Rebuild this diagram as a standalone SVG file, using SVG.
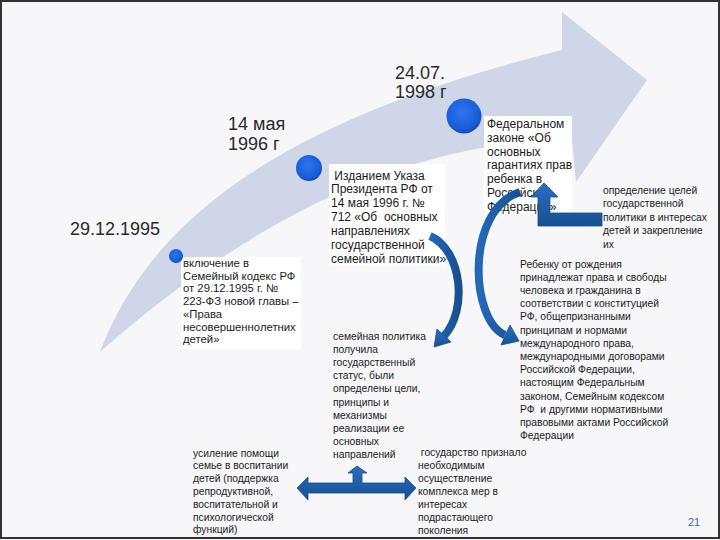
<svg xmlns="http://www.w3.org/2000/svg" width="720" height="540" viewBox="0 0 720 540">
<style>
text{font-family:"Liberation Sans",Arial,sans-serif;fill:#1c1c1c}
.date{font-size:18px;fill:#2a2a2a}
.t12{font-size:12px}
.t11{font-size:11.3px}
.t10{font-size:10.3px}
.box{fill:#ffffff}
.dot{fill:url(#dotg)}
.barrow{fill:url(#arrg);stroke:#174a90;stroke-width:0.8}
.curve{fill:none;stroke:url(#arrg2);stroke-width:8}
</style>
<defs>
<radialGradient id="dotg" cx="0.45" cy="0.4" r="0.6">
<stop offset="0" stop-color="#2f74ee"/>
<stop offset="0.8" stop-color="#1a5cd8"/>
<stop offset="1" stop-color="#1448b0"/>
</radialGradient>
<linearGradient id="arrg" x1="0" y1="0" x2="0" y2="1">
<stop offset="0" stop-color="#2b6fc2"/>
<stop offset="1" stop-color="#17508f"/>
</linearGradient>
<linearGradient id="arrg2" x1="0" y1="0" x2="1" y2="0">
<stop offset="0" stop-color="#2468b8"/>
<stop offset="1" stop-color="#17508f"/>
</linearGradient>
</defs>
<rect x="0" y="0" width="720" height="540" fill="#f7f7f9"/>
<rect x="1" y="1" width="718" height="537" fill="none" stroke="#333" stroke-width="2"/>

<g id="timeline">
<path d="M100,352 C150,220 280,120 562,50 L562,12 L647,80 L576,182 L572,140 C420,140 260,210 100,352 Z" fill="#cfd6e8"/>
</g>

<g id="node-1995">
<rect class="box" x="181" y="257" width="120" height="92"/>
<circle class="dot" cx="176" cy="256" r="7"/>
<text class="date" x="70" y="235">29.12.1995</text>
<text class="t11" x="183" y="267"><tspan x="183">включение в</tspan><tspan x="183" dy="12.7">Семейный кодекс РФ</tspan><tspan x="183" dy="12.7">от 29.12.1995 г. №</tspan><tspan x="183" dy="12.7">223-ФЗ новой главы –</tspan><tspan x="183" dy="12.7">«Права</tspan><tspan x="183" dy="12.7">несовершеннолетних</tspan><tspan x="183" dy="12.7">детей»</tspan></text>
</g>

<g id="node-1996">
<rect class="box" x="329" y="164" width="116" height="102"/>
<circle class="dot" cx="309" cy="168" r="13"/>
<text class="date" x="228" y="130">14 мая</text>
<text class="date" x="228" y="150">1996 г</text>
<text class="t12" x="331" y="179.5" xml:space="preserve"><tspan x="331"> Изданием Указа</tspan><tspan x="331" dy="13.9">Президента РФ от</tspan><tspan x="331" dy="13.9">14 мая 1996 г. №</tspan><tspan x="331" dy="13.9">712 «Об  основных</tspan><tspan x="331" dy="13.9">направлениях</tspan><tspan x="331" dy="13.9">государственной</tspan><tspan x="331" dy="13.9">семейной политики»</tspan></text>
</g>

<g id="node-1998">
<rect class="box" x="484" y="116" width="88" height="98"/>
<circle class="dot" cx="464" cy="116" r="17.5"/>
<text class="date" x="395" y="79">24.07.</text>
<text class="date" x="395" y="98">1998 г</text>
<text class="t12" x="487" y="128"><tspan x="487">Федеральном</tspan><tspan x="487" dy="13.8">законе «Об</tspan><tspan x="487" dy="13.8">основных</tspan><tspan x="487" dy="13.8">гарантиях прав</tspan><tspan x="487" dy="13.8">ребенка в</tspan><tspan x="487" dy="13.8">Российской</tspan><tspan x="487" dy="13.8">Федерации»</tspan></text>
</g>

<g id="node-goals">
<text class="t10" x="603" y="194"><tspan x="603">определение целей</tspan><tspan x="603" dy="13.4">государственной</tspan><tspan x="603" dy="13.4">политики в интересах</tspan><tspan x="603" dy="13.4">детей и закрепление</tspan><tspan x="603" dy="13.4">их</tspan></text>
</g>

<g id="node-rights">
<text class="t10" x="520" y="267.5" xml:space="preserve"><tspan x="520">Ребенку от рождения</tspan><tspan x="520" dy="13.2">принадлежат права и свободы</tspan><tspan x="520" dy="13.2">человека и гражданина в</tspan><tspan x="520" dy="13.2">соответствии с конституцией</tspan><tspan x="520" dy="13.2">РФ, общепризнанными</tspan><tspan x="520" dy="13.2">принципам и нормами</tspan><tspan x="520" dy="13.2">международного права,</tspan><tspan x="520" dy="13.2">международными договорами</tspan><tspan x="520" dy="13.2">Российской Федерации,</tspan><tspan x="520" dy="13.2">настоящим Федеральным</tspan><tspan x="520" dy="13.2">законом, Семейным кодексом</tspan><tspan x="520" dy="13.2">РФ  и другими нормативными</tspan><tspan x="520" dy="13.2">правовыми актами Российской</tspan><tspan x="520" dy="13.2">Федерации</tspan></text>
</g>

<g id="node-policy">
<text class="t10" x="333" y="340"><tspan x="333">семейная политика</tspan><tspan x="333" dy="13.1">получила</tspan><tspan x="333" dy="13.1">государственный</tspan><tspan x="333" dy="13.1">статус, были</tspan><tspan x="333" dy="13.1">определены цели,</tspan><tspan x="333" dy="13.1">принципы и</tspan><tspan x="333" dy="13.1">механизмы</tspan><tspan x="333" dy="13.1">реализации ее</tspan><tspan x="333" dy="13.1">основных</tspan><tspan x="333" dy="13.1">направлений</tspan></text>
</g>

<g id="node-state">
<text class="t10" x="418" y="455.5" xml:space="preserve"><tspan x="418"> государство признало</tspan><tspan x="418" dy="13">необходимым</tspan><tspan x="418" dy="13">осуществление</tspan><tspan x="418" dy="13">комплекса мер в</tspan><tspan x="418" dy="13">интересах</tspan><tspan x="418" dy="13">подрастающего</tspan><tspan x="418" dy="13">поколения</tspan></text>
</g>

<g id="node-help">
<text class="t10" x="193" y="456.5"><tspan x="193">усиление помощи</tspan><tspan x="193" dy="12.8">семье в воспитании</tspan><tspan x="193" dy="12.8">детей (поддержка</tspan><tspan x="193" dy="12.8">репродуктивной,</tspan><tspan x="193" dy="12.8">воспитательной и</tspan><tspan x="193" dy="12.8">психологической</tspan><tspan x="193" dy="12.8">функций)</tspan></text>
</g>

<g id="connectors">
<path class="curve" d="M430,236 C462,250 468,310 444,336"/>
<polygon class="barrow" points="434,347 451,342 437,329"/>
<path class="curve" stroke-width="9" d="M520,192 C465,210 470,320 505,335"/>
<polygon class="barrow" points="519,341 501,345 510,325"/>
<polygon class="barrow" points="538,226 602,226 602,213 550,213 550,197 558,197 544,183 531,197 538,197"/>
<polygon class="barrow" points="297,488 308,477 308,483 353,483 353,473 348,473 357,466 367,473 362,473 362,483 405,483 405,477 416,488 405,500 405,493 308,493 308,500"/>
</g>

<text x="688" y="526" font-size="11" style="fill:#3b6aa0">21</text>
</svg>
